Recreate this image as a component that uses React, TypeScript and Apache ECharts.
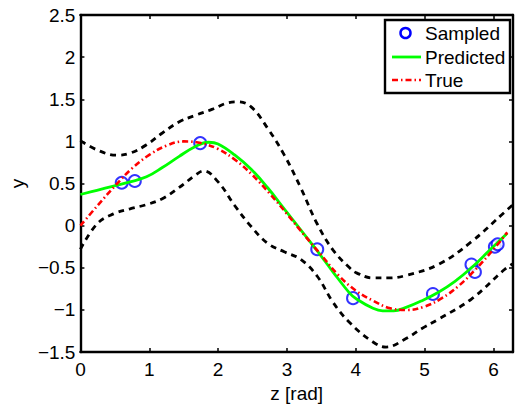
import React, { useEffect, useRef } from "react";
import * as echarts from "echarts";

// ---- Data ----
const sampledX = [0.6, 0.79, 1.74, 3.44, 3.96, 5.12, 5.68, 5.73, 6.02, 6.06];
const sampledY = [0.51, 0.53, 0.98, -0.28, -0.86, -0.81, -0.46, -0.55, -0.25, -0.22];

const predX = [0, 0.24, 0.48, 0.72, 0.96, 1.19, 1.43, 1.67, 1.86, 2.0, 2.24, 2.48, 2.72, 2.96, 3.2, 3.44, 3.67, 3.91, 4.01, 4.25, 4.39, 4.55, 4.73, 4.96, 5.2, 5.44, 5.68, 5.92, 6.2];
const predY = [0.37, 0.42, 0.47, 0.52, 0.58, 0.69, 0.82, 0.94, 0.99, 0.97, 0.84, 0.67, 0.45, 0.2, -0.05, -0.3, -0.55, -0.8, -0.87, -0.98, -1.01, -1.01, -0.97, -0.89, -0.79, -0.66, -0.5, -0.31, -0.09];

const trueX = [0, 0.25, 0.5, 0.75, 1.0, 1.25, 1.5, 1.75, 2.0, 2.25, 2.5, 2.75, 3.0, 3.25, 3.5, 3.75, 4.0, 4.25, 4.5, 4.75, 5.0, 5.25, 5.5, 5.75, 6.0, 6.2];
const trueY = [0, 0.24, 0.47, 0.68, 0.84, 0.95, 1.0, 0.98, 0.91, 0.78, 0.6, 0.38, 0.14, -0.11, -0.35, -0.59, -0.77, -0.89, -0.98, -1.0, -0.96, -0.86, -0.71, -0.51, -0.28, -0.08];

const upperX = [0, 0.24, 0.53, 0.72, 0.96, 1.19, 1.43, 1.67, 1.91, 2.15, 2.29, 2.48, 2.72, 2.96, 3.2, 3.44, 3.67, 3.91, 4.01, 4.25, 4.49, 4.73, 5.2, 5.68, 6.16, 6.2832];
const upperY = [1.01, 0.9, 0.836, 0.86, 0.96, 1.1, 1.23, 1.31, 1.38, 1.46, 1.47, 1.41, 1.155, 0.84, 0.45, 0.02, -0.29, -0.5, -0.56, -0.62, -0.62, -0.59, -0.46, -0.19, 0.16, 0.25];

const lowerX = [0, 0.24, 0.48, 0.72, 0.96, 1.19, 1.43, 1.67, 1.79, 2.0, 2.24, 2.48, 2.72, 2.96, 3.2, 3.44, 3.67, 3.91, 4.25, 4.44, 4.73, 4.96, 5.2, 5.68, 6.16, 6.2832];
const lowerY = [-0.28, 0.02, 0.14, 0.2, 0.25, 0.32, 0.45, 0.6, 0.65, 0.52, 0.24, -0.01, -0.21, -0.31, -0.4, -0.6, -0.91, -1.15, -1.38, -1.44, -1.34, -1.22, -1.11, -0.87, -0.52, -0.45];

const xMin = 0;
const xMax = 6.2832;
const yMin = -1.5;
const yMax = 2.5;
const legendNames = ["Sampled", "Predicted", "True"];

const zip = (xs: number[], ys: number[]) => xs.map((x, i) => [x, ys[i]]);

const FONT = "Liberation Sans, Arial, Helvetica, sans-serif";
const BLUE = "#0000ff";
const GREEN = "#00ff00";
const RED = "#ff0000";

export default function App() {
  const ref = useRef<HTMLDivElement>(null);
  useEffect(() => {
    if (!ref.current) return;
    const chart = echarts.init(ref.current, undefined, { renderer: "svg" });
    const axisLine = { show: true, onZero: false, lineStyle: { color: "#000", width: 2.4 } };
    const axisTick = { show: true, inside: true, length: 4, lineStyle: { color: "#000", width: 1.5 } };
    const fmtMinus = (v: number) => String(v).replace("-", "\u2212");

    // legend box (manual, MATLAB style)
    const lgX = 385, lgY = 20, lgW = 125, lgH = 73;
    const rowY = [33, 57, 80];
    const iconX0 = 392, iconX1 = 421, textX = 425;
    const textStyle = (t: string, y: number) => ({
      type: "text",
      x: textX,
      y,
      z: 101,
      style: { text: t, fontSize: 19, fontFamily: FONT, fill: "#000", verticalAlign: "middle", align: "left" },
    });

    chart.setOption({
      animation: false,
      backgroundColor: "#fff",
      textStyle: { fontFamily: FONT },
      grid: { left: 77, right: 1, top: 15, bottom: 50, containLabel: false },
      xAxis: [
        {
          type: "value",
          position: "bottom",
          min: xMin,
          max: xMax,
          interval: 1,
          axisLine,
          axisTick,
          splitLine: { show: false },
          axisLabel: {
            fontSize: 19,
            color: "#000",
            margin: 8,
            fontFamily: FONT,
            formatter: (v: number) => (Math.abs(v - Math.round(v)) < 1e-6 ? String(Math.round(v)) : ""),
          },
          name: "z [rad]",
          nameLocation: "middle",
          nameGap: 28,
          nameTextStyle: { fontSize: 19, color: "#000", fontFamily: FONT },
        },
        {
          type: "value",
          position: "top",
          min: xMin,
          max: xMax,
          interval: 1,
          axisLine,
          axisTick,
          splitLine: { show: false },
          axisLabel: { show: false },
        },
      ],
      yAxis: [
        {
          type: "value",
          position: "left",
          min: yMin,
          max: yMax,
          interval: 0.5,
          axisLine,
          axisTick,
          splitLine: { show: false },
          axisLabel: {
            fontSize: 19,
            color: "#000",
            margin: 5,
            fontFamily: FONT,
            formatter: fmtMinus,
          },
          name: "y",
          nameLocation: "middle",
          nameGap: 45,
          nameTextStyle: { fontSize: 19, color: "#000", fontFamily: FONT },
        },
        {
          type: "value",
          position: "right",
          min: yMin,
          max: yMax,
          interval: 0.5,
          axisLine,
          axisTick,
          splitLine: { show: false },
          axisLabel: { show: false },
        },
      ],
      graphic: [
        {
          type: "rect",
          z: 100,
          shape: { x: lgX, y: lgY, width: lgW, height: lgH },
          style: { fill: "#fff", stroke: "#000", lineWidth: 2.4 },
        },
        {
          type: "circle",
          z: 101,
          shape: { cx: 405.5, cy: rowY[0], r: 5 },
          style: { fill: "none", stroke: BLUE, lineWidth: 2.5 },
        },
        {
          type: "line",
          z: 101,
          shape: { x1: iconX0, y1: rowY[1], x2: iconX1, y2: rowY[1] },
          style: { stroke: GREEN, lineWidth: 2.8 },
        },
        {
          type: "line",
          z: 101,
          shape: { x1: iconX0, y1: rowY[2], x2: iconX1, y2: rowY[2] },
          style: { stroke: RED, lineWidth: 2.6, lineDash: [6, 3, 1.5, 3] },
        },
        textStyle(legendNames[0], rowY[0]),
        textStyle(legendNames[1], rowY[1]),
        textStyle(legendNames[2], rowY[2]),
      ],
      series: [
        {
          name: legendNames[0],
          type: "scatter",
          data: zip(sampledX, sampledY),
          symbol: "emptyCircle",
          symbolSize: 12,
          itemStyle: { color: BLUE, borderColor: BLUE, borderWidth: 2.5 },
          z: 2,
        },
        {
          name: legendNames[1],
          type: "line",
          data: zip(predX, predY),
          smooth: 0.4,
          showSymbol: false,
          symbol: "none",
          lineStyle: { color: GREEN, width: 2.8 },
          itemStyle: { color: GREEN },
          z: 3,
        },
        {
          name: legendNames[2],
          type: "line",
          data: zip(trueX, trueY),
          smooth: 0.4,
          showSymbol: false,
          symbol: "none",
          lineStyle: { color: RED, width: 2.6, type: [6, 3, 1.5, 3] },
          itemStyle: { color: RED },
          z: 4,
        },
        {
          name: "Upper",
          type: "line",
          data: zip(upperX, upperY),
          smooth: 0.4,
          showSymbol: false,
          symbol: "none",
          lineStyle: { color: "#000", width: 2.8, type: [6, 5] },
          z: 5,
        },
        {
          name: "Lower",
          type: "line",
          data: zip(lowerX, lowerY),
          smooth: 0.4,
          showSymbol: false,
          symbol: "none",
          lineStyle: { color: "#000", width: 2.8, type: [6, 5] },
          z: 5,
        },
      ],
    });
    return () => chart.dispose();
  }, []);
  return (
    <div
      ref={ref}
      style={{ position: "fixed", left: 0, top: 0, width: 516, height: 408, background: "#fff" }}
    />
  );
}
